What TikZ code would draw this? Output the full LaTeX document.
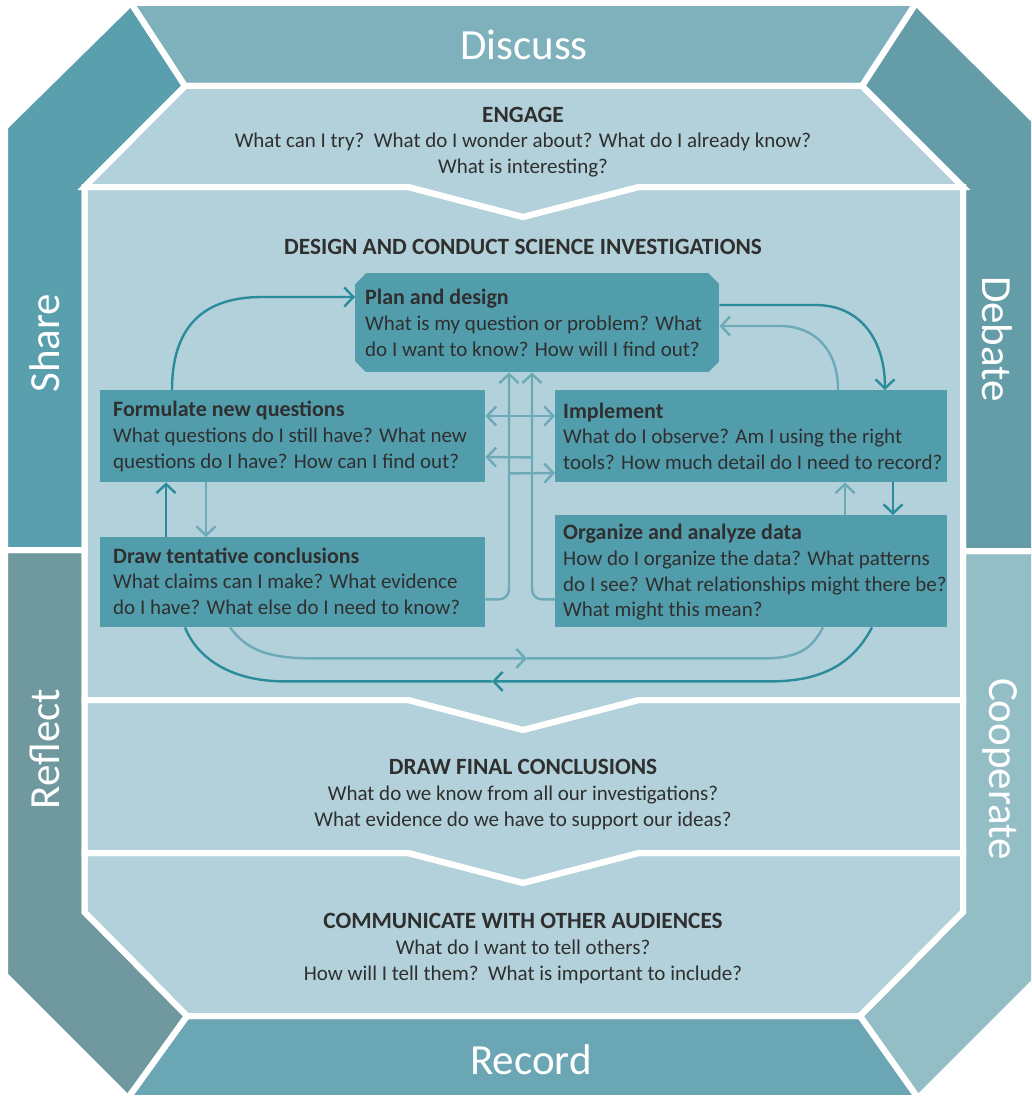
\documentclass[tikz,border=0pt]{standalone}
\usepackage{fontspec}
\setmainfont{Carlito}
\usetikzlibrary{calc,arrows.meta}
\definecolor{cDiscuss}{HTML}{7FB1BD}
\definecolor{cShare}{HTML}{599FAD}
\definecolor{cDebate}{HTML}{649DA8}
\definecolor{cReflect}{HTML}{6F989F}
\definecolor{cCoop}{HTML}{94BEC6}
\definecolor{cRecord}{HTML}{6AA6B3}
\definecolor{cPanel}{HTML}{B3D1DA}
\definecolor{cBox}{HTML}{529DAC}
\definecolor{cDark}{HTML}{2A8C9B}
\definecolor{cLight}{HTML}{6DAAB8}
\definecolor{cText}{HTML}{2F2F2F}
\newcommand{\polyDiscuss}{(131,3) -- (916,3) -- (862,86) -- (185,86) -- cycle}
\newcommand{\polyShare}{(131,3) -- (5,127) -- (5,550) -- (84.5,550) -- (84.5,187) -- (185,86) -- cycle}
\newcommand{\polyDebate}{(916,3) -- (1041,127) -- (1041,551) -- (963,551) -- (963,187) -- (862,86) -- cycle}
\newcommand{\polyReflect}{(5,550) -- (5,975) -- (128,1098) -- (187,1016) -- (84.5,912) -- (84.5,550) -- cycle}
\newcommand{\polyRecord}{(128,1098) -- (918,1098) -- (860,1016) -- (187,1016) -- cycle}
\newcommand{\polyCoop}{(1041,551) -- (1041,975) -- (918,1098) -- (860,1016) -- (963,912) -- (963,551) -- cycle}
\newcommand{\polyEngage}{(185,86) -- (862,86) -- (963,187) -- (639,187) -- (523,217) -- (408,187) -- (84.5,187) -- cycle}
\newcommand{\polyDesign}{(84.5,187) -- (408,187) -- (523,217) -- (639,187) -- (963,187) -- (963,700) -- (639,700) -- (523,730) -- (408,700) -- (84.5,700) -- cycle}
\newcommand{\polyFinal}{(84.5,700) -- (408,700) -- (523,730) -- (639,700) -- (963,700) -- (963,853) -- (639,853) -- (523,883) -- (408,853) -- (84.5,853) -- cycle}
\newcommand{\polyComm}{(84.5,853) -- (408,853) -- (523,883) -- (639,853) -- (963,853) -- (963,912) -- (860,1016) -- (187,1016) -- (84.5,912) -- cycle}
\newcommand{\boxtitle}[1]{{\fontsize{22}{26}\selectfont\bfseries #1}}
\newcommand{\paneltitle}[1]{{\fontsize{23.3}{26}\selectfont\bfseries #1}}
\tikzset{
  gapline/.style={draw=white, line width=6pt, line join=miter},
  bandlabel/.style={text=white, font=\fontsize{43}{50}\selectfont, inner sep=0pt},
  paneltext/.style={text=cText, align=center, inner sep=0pt, font=\fontsize{21}{25.7}\selectfont},
  boxshape/.style={fill=cBox, draw=none, inner sep=0pt, anchor=north west},
  boxtext/.style={text=cText, align=left, inner sep=0pt, anchor=west, font=\fontsize{21}{25.8}\selectfont},
  darkarr/.style={draw=cDark, line width=2.4pt},
  lightarr/.style={draw=cLight, line width=2.4pt},
  >={Straight Barb[length=9pt,width=19pt]}
}
\begin{document}
\begin{tikzpicture}[x=1pt,y=-1pt]
\useasboundingbox (0,0) rectangle (1031,1097);
\clip (0,0) rectangle (1031,1097);
% fills
\fill[cDiscuss] \polyDiscuss;
\fill[cShare] \polyShare;
\fill[cDebate] \polyDebate;
\fill[cReflect] \polyReflect;
\fill[cRecord] \polyRecord;
\fill[cCoop] \polyCoop;
\fill[cPanel] \polyEngage;
\fill[cPanel] \polyDesign;
\fill[cPanel] \polyFinal;
\fill[cPanel] \polyComm;
% white gaps
\path[gapline] \polyDiscuss;
\path[gapline] \polyShare;
\path[gapline] \polyDebate;
\path[gapline] \polyReflect;
\path[gapline] \polyRecord;
\path[gapline] \polyCoop;
\path[gapline] \polyEngage;
\path[gapline] \polyDesign;
\path[gapline] \polyFinal;
\path[gapline] \polyComm;
% band labels
\node[bandlabel] (lDiscuss) at (524,45) {Discuss};
\node[bandlabel] (lRecord) at (531,1060) {Record};
\node[bandlabel, rotate=90] (lShare) at (45,343) {Share};
\node[bandlabel, rotate=90] (lReflect) at (45,749) {Reflect};
\node[bandlabel, rotate=-90] (lDebate) at (997,339) {Debate};
\node[bandlabel, rotate=-90] (lCoop) at (1000,769) {Cooperate};
% panel texts
\node[paneltext] (tEngage) at (523,142) {\paneltitle{ENGAGE}\\What can I try?\ \ What do I wonder about? What do I already know?\\What is interesting?};
\node[paneltext] (tDesign) at (523,247) {\paneltitle{DESIGN AND CONDUCT SCIENCE INVESTIGATIONS}};
\node[paneltext] (tFinal) at (523,794.5) {\paneltitle{DRAW FINAL CONCLUSIONS}\\What do we know from all our investigations?\\What evidence do we have to support our ideas?};
\node[paneltext] (tComm) at (523,948.5) {\paneltitle{COMMUNICATE WITH OTHER AUDIENCES}\\What do I want to tell others?\\How will I tell them?\ \ What is important to include?};
% boxes
\node[boxshape, minimum width=364pt, minimum height=99pt] (plan) at (355,273) {};
\fill[cPanel] (plan.north west) -- ++(11,0) -- ++(-11,11) -- cycle;
\fill[cPanel] (plan.north east) -- ++(-11,0) -- ++(11,11) -- cycle;
\fill[cPanel] (plan.south west) -- ++(11,0) -- ++(-11,-11) -- cycle;
\fill[cPanel] (plan.south east) -- ++(-11,0) -- ++(11,-11) -- cycle;
\node[boxshape, minimum width=385pt, minimum height=92pt] (form) at (100,390) {};
\node[boxshape, minimum width=392pt, minimum height=92pt] (impl) at (555,390) {};
\node[boxshape, minimum width=385pt, minimum height=90pt] (tent) at (100,537) {};
\node[boxshape, minimum width=392pt, minimum height=112pt] (orga) at (555,515) {};
\node[boxtext] (tplan) at ($(plan.west)+(10,0)$) {\boxtitle{Plan and design}\\What is my question or problem? What\\do I want to know? How will I find out?};
\node[boxtext] (tform) at ($(form.west)+(13,0)$) {\boxtitle{Formulate new questions}\\What questions do I still have? What new\\questions do I have? How can I find out?};
\node[boxtext] (timpl) at ($(impl.west)+(8,0)$) {\boxtitle{Implement}\\What do I observe? Am I using the right\\tools? How much detail do I need to record?};
\node[boxtext] (ttent) at ($(tent.west)+(13,-1)$) {\boxtitle{Draw tentative conclusions}\\What claims can I make? What evidence\\do I have? What else do I need to know?};
\node[boxtext] (torga) at ($(orga.west)+(8,1)$) {\boxtitle{Organize and analyze data}\\How do I organize the data? What patterns\\do I see? What relationships might there be?\\What might this mean?};
% loop connectors
\draw[darkarr,->] ($(form.north west)+(72,0)$) .. controls +(0,-60) and +(-62,0) .. ++(90,-93) -- ($(plan.north west)+(0,24)$);
\draw[darkarr,->] ($(plan.north east)+(0,32)$) -- ++(96,0) .. controls +(45,0) and +(0,-50) .. ($(impl.north west)+(330,0)$);
\draw[lightarr,->] ($(impl.north west)+(283,0)$) .. controls +(0,-40) and +(35,0) .. ++(-58,-64) -- ($(plan.north east)+(0,53)$);
\draw[darkarr,->] ($(impl.south west)+(338,0)$) -- ($(orga.north west)+(338,0)$);
\draw[lightarr,->] ($(orga.north west)+(290,0)$) -- ($(impl.south west)+(290,0)$);
\draw[lightarr,->] ($(form.south west)+(106,0)$) -- ($(tent.north west)+(106,0)$);
\draw[darkarr,->] ($(tent.north west)+(66,0)$) -- ($(form.south west)+(66,0)$);
% centre connectors
\draw[lightarr,->,rounded corners=10pt] ($(tent.south east)+(0,-28)$) -| ($(plan.south west)+(154,0)$);
\draw[lightarr,->,rounded corners=10pt] ($(orga.south west)+(0,-28)$) -| ($(plan.south west)+(177,0)$);
\draw[lightarr,<->] ($(form.north east)+(0,26)$) -- ($(impl.north west)+(0,26)$);
\draw[lightarr,->] ($(plan.south west)+(177,85)$) -- ($(form.north east)+(0,67)$);
\draw[lightarr,->] ($(plan.south west)+(154,101)$) -- ($(impl.north west)+(0,83)$);
% bottom loops
\draw[lightarr,->] ($(tent.south west)+(130,0)$) .. controls +(18,24) and +(-45,0) .. ++(85,31) -- ($(tent.south west)+(427,31)$);
\draw[lightarr] ($(tent.south west)+(427,31)$) -- ($(orga.south west)+(208,31)$) .. controls +(40,0) and +(-10,18) .. ($(orga.south west)+(268,0)$);
\draw[darkarr,->] ($(orga.south west)+(317,0)$) .. controls +(-20,38) and +(50,0) .. ++(-102,54) -- ($(tent.south west)+(392,54)$);
\draw[darkarr] ($(tent.south west)+(392,54)$) -- ($(tent.south west)+(185,54)$) .. controls +(-55,0) and +(12,30) .. ($(tent.south west)+(85,0)$);
\end{tikzpicture}
\end{document}
